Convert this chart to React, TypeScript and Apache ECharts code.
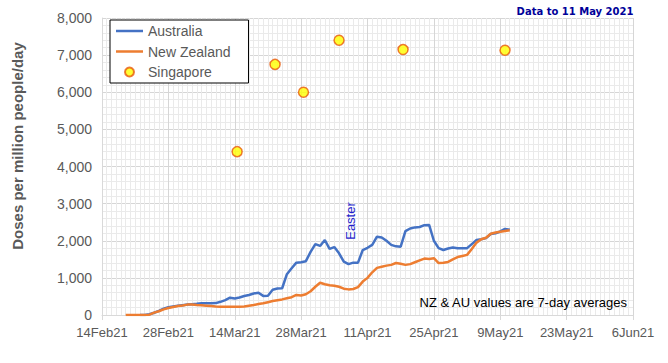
import React, { useEffect, useRef } from "react";
import * as echarts from "echarts";

// Day offsets are counted from 14 Feb 2021
const baseDateUTC = Date.UTC(2021, 1, 14);
const monthNames = ["Jan", "Feb", "Mar", "Apr", "May", "Jun", "Jul", "Aug", "Sep", "Oct", "Nov", "Dec"];
const xTickDays = [0, 14, 28, 42, 56, 70, 84, 98, 112];

const australiaStartDay = 8;
const australia = [
  0, 0, 20, 60, 110, 170, 210, 230, 250, 265, 280, 290, 300, 315, 315, 315, 320, 355, 400, 465,
  445, 470, 510, 540, 580, 600, 515, 520, 680, 715, 720, 1100, 1260, 1410, 1420, 1450, 1700, 1910, 1860, 2020,
  1780, 1830, 1660, 1440, 1370, 1410, 1410, 1750, 1810, 1890, 2110, 2090, 2000, 1890, 1850, 1840, 2260, 2330, 2360, 2370,
  2420, 2425, 2000, 1800, 1750, 1790, 1820, 1800, 1800, 1800, 1910, 2020, 2040, 2070, 2180, 2200, 2250, 2320, 2300,
];

const newZealandStartDay = 5;
const newZealand = [
  0, 0, 0, 0, 0, 10, 63, 100, 150, 190, 215, 240, 255, 280, 285, 270, 260, 250, 240, 230,
  225, 225, 225, 225, 225, 230, 250, 270, 295, 315, 345, 375, 400, 420, 450, 480, 540, 525, 560, 640,
  760, 870, 830, 800, 790, 760, 710, 690, 700, 750, 900, 1000, 1150, 1270, 1300, 1330, 1350, 1400, 1380, 1350,
  1370, 1420, 1470, 1520, 1510, 1530, 1400, 1410, 1430, 1500, 1560, 1590, 1620, 1780, 1950, 2040, 2080, 2190, 2220, 2240,
  2260, 2280,
];

const singaporeDays = [28.5, 36.5, 42.5, 50, 63.5, 85];
const singapore = [4400, 6750, 6000, 7400, 7150, 7130];

const seriesNames = ["Australia", "New Zealand", "Singapore"];
const yAxisTitle = "Doses per million people/day";
const dataNote = "Data to 11 May 2021";
const averageNote = "NZ & AU values are 7-day averages";
const easterLabel = "Easter";

function dayLabel(day: number): string {
  const d = new Date(baseDateUTC + day * 86400000);
  return `${d.getUTCDate()}${monthNames[d.getUTCMonth()]}${String(d.getUTCFullYear()).slice(2)}`;
}

const FONT = "'Liberation Sans', Arial, sans-serif";
const GREY = "#595959";
const LINE_ICON = "path://M0,0 L27,0 L27,2.5 L0,2.5 Z";

export default function App() {
  const ref = useRef<HTMLDivElement>(null);

  useEffect(() => {
    if (!ref.current) return;
    const chart = echarts.init(ref.current, undefined, { renderer: "svg" });
    const auData = australia.map((v, i) => [australiaStartDay + i, v]);
    const nzData = newZealand.map((v, i) => [newZealandStartDay + i, v]);
    const sgData = singapore.map((v, i) => [singaporeDays[i], v]);

    chart.setOption({
      animation: false,
      backgroundColor: "#ffffff",
      textStyle: { fontFamily: FONT },
      grid: { left: 102, right: 35, top: 18, bottom: 48, containLabel: false },
      legend: {
        orient: "vertical",
        left: 110,
        top: 20,
        backgroundColor: "#ffffff",
        borderColor: "#000000",
        borderWidth: 1,
        borderRadius: 0,
        padding: [4, 18, 4, 6],
        itemWidth: 27,
        itemHeight: 9,
        itemGap: 6.5,
        itemTextGap: 7,
        symbolKeepAspect: true,
        textStyle: { fontFamily: FONT, fontSize: 14, color: GREY, lineHeight: 14 },
        data: [
          { name: seriesNames[0], icon: LINE_ICON },
          { name: seriesNames[1], icon: LINE_ICON },
          { name: seriesNames[2], icon: "circle" },
        ],
      },
      xAxis: {
        type: "value",
        min: 0,
        max: 112,
        interval: 14,
        axisLine: { show: true, lineStyle: { color: "#D9D9D9", width: 1 } },
        axisTick: { show: true, length: 5, lineStyle: { color: "#D9D9D9" } },
        minorTick: { show: false, splitNumber: 14 },
        splitLine: { show: true, lineStyle: { color: "#D6D6D6", width: 1 } },
        minorSplitLine: { show: true, lineStyle: { color: "#EAEAEA", width: 1 } },
        axisLabel: {
          fontFamily: FONT,
          fontSize: 13,
          color: GREY,
          margin: 11,
          formatter: (v: number) => (xTickDays.indexOf(v) >= 0 ? dayLabel(v) : ""),
        },
      },
      yAxis: {
        type: "value",
        min: 0,
        max: 8000,
        interval: 1000,
        axisLine: { show: true, lineStyle: { color: "#D9D9D9", width: 1 } },
        axisTick: { show: false },
        minorTick: { show: false, splitNumber: 5 },
        splitLine: { show: true, lineStyle: { color: "#D6D6D6", width: 1 } },
        minorSplitLine: { show: true, lineStyle: { color: "#EAEAEA", width: 1 } },
        axisLabel: { fontFamily: FONT, fontSize: 14, color: GREY, margin: 10 },
      },
      series: [
        {
          name: seriesNames[0],
          type: "line",
          data: auData,
          showSymbol: false,
          symbol: "none",
          lineStyle: { color: "#4472C4", width: 2.5 },
          itemStyle: { color: "#4472C4" },
          z: 3,
        },
        {
          name: seriesNames[1],
          type: "line",
          data: nzData,
          showSymbol: false,
          symbol: "none",
          lineStyle: { color: "#ED7D31", width: 2.5 },
          itemStyle: { color: "#ED7D31" },
          z: 4,
        },
        {
          name: seriesNames[2],
          type: "scatter",
          data: sgData,
          symbol: "circle",
          symbolSize: 10,
          itemStyle: { color: "#FFFF00", borderColor: "#E8590C", borderWidth: 1.5 },
          z: 5,
        },
      ],
      graphic: [
        {
          type: "text",
          x: 17,
          y: 146,
          rotation: Math.PI / 2,
          style: {
            text: yAxisTitle,
            fontFamily: FONT,
            fontSize: 15,
            fontWeight: "bold",
            fill: GREY,
            textAlign: "center",
            textVerticalAlign: "middle",
          },
        },
        {
          type: "text",
          x: 575,
          y: 11,
          style: {
            text: dataNote,
            fontFamily: "'DejaVu Sans', Verdana, sans-serif",
            fontSize: 10,
            fontWeight: "bold",
            fill: "#000099",
            textAlign: "center",
            textVerticalAlign: "middle",
          },
        },
        {
          type: "text",
          x: 627,
          y: 302,
          z: 10,
          style: {
            text: averageNote,
            fontFamily: FONT,
            fontSize: 13,
            fill: "#000000",
            textAlign: "right",
            textVerticalAlign: "middle",
          },
        },
        {
          type: "text",
          x: 350,
          y: 221,
          z: 10,
          rotation: Math.PI / 2,
          style: {
            text: easterLabel,
            fontFamily: FONT,
            fontSize: 13,
            fill: "#1F1FCC",
            textAlign: "center",
            textVerticalAlign: "middle",
          },
        },
      ],
    });

    return () => {
      chart.dispose();
    };
  }, []);

  return (
    <div
      ref={ref}
      style={{ position: "absolute", left: 0, top: 0, width: 668, height: 363 }}
    />
  );
}
